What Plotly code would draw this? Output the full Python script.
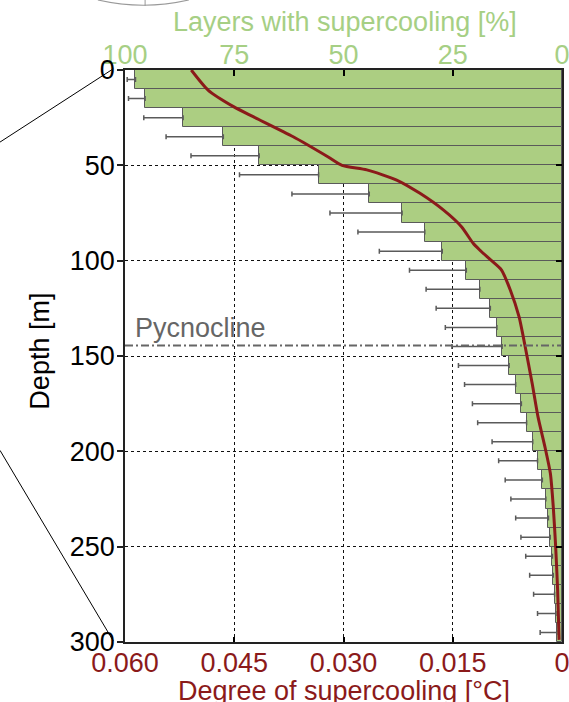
import plotly.graph_objects as go

# ---- data ----
depth_top = [0, 10, 20, 30, 40, 50, 60, 70, 80, 90, 100, 110, 120, 130, 140,
             150, 160, 170, 180, 190, 200, 210, 220, 230, 240, 250, 260, 270, 280, 290]
layer_pct = [97.6, 95.4, 86.7, 77.5, 69.3, 55.7, 44.1, 36.6, 31.4, 27.4,
             21.9, 18.8, 16.4, 14.9, 13.7, 12.1, 10.6, 9.3, 8.1, 6.7,
             5.6, 4.5, 3.7, 3.1, 2.7, 2.2, 2.0, 1.7, 1.4, 1.2]
layer_pct_upper = [99.5, 99.2, 95.7, 90.6, 84.9, 73.8, 61.8, 53.1, 46.7, 41.8,
                   34.9, 31.1, 28.8, 26.7, 25.2, 23.7, 22.3, 20.5, 19.3, 16.0,
                   14.5, 13.0, 11.7, 10.6, 9.4, 8.3, 7.4, 6.5, 5.6, 5.0]

line_depth = [0, 10.5, 19.2, 24.5, 35, 45.6, 50, 52.4, 57.7, 64.7, 73.4, 82.2,
              90.9, 94.4, 99.6, 104.9, 115.4, 129.4, 144.2, 164.3, 181.8, 198.4,
              211.5, 229, 250, 272.7, 298.9]
line_deg = [0.0509, 0.0486, 0.0451, 0.0424, 0.0369, 0.0321, 0.0302, 0.0268,
            0.0227, 0.0195, 0.0163, 0.0138, 0.0122, 0.0113, 0.0098, 0.0083,
            0.0071, 0.0059, 0.0051, 0.0041, 0.0033, 0.0023, 0.0016, 0.0012,
            0.00087, 0.0006, 0.0004]

pct_ticks = [100, 75, 50, 25, 0]
deg_ticks = [0.060, 0.045, 0.030, 0.015, 0]
deg_ticktext = ["0.060", "0.045", "0.030", "0.015", "0"]
depth_ticks = [0, 50, 100, 150, 200, 250, 300]
pycnocline_depth = 144.5

GREEN_TXT = "#a6cf84"
GREEN_BAR = "#acce82"
DARKRED = "#8b1a1a"
FONT = "Liberation Sans, Arial, sans-serif"
FS = 27

centers = [d + 5 for d in depth_top]
err_len = [u - p for u, p in zip(layer_pct_upper, layer_pct)]

fig = go.Figure()

# bars on the main subplot (percent axis = xaxis, drawn at top)
fig.add_trace(go.Bar(
    x=layer_pct, y=centers, orientation="h", width=10,
    xaxis="x", yaxis="y",
    marker=dict(color=GREEN_BAR, line=dict(color="#5a5a5a", width=1)),
    error_x=dict(type="data", symmetric=False, array=err_len,
                 arrayminus=[0] * len(err_len), color="#5a5a5a",
                 thickness=1.5, width=2.5),
    showlegend=False, hoverinfo="skip",
))

# supercooling line on the overlaid degree axis (xaxis2, drawn at bottom)
fig.add_trace(go.Scatter(
    x=line_deg, y=line_depth, mode="lines", xaxis="x2", yaxis="y",
    line=dict(color=DARKRED, width=3, shape="spline", smoothing=0.6),
    showlegend=False, hoverinfo="skip",
))

fig.add_trace(go.Scatter(x=[None], y=[None], xaxis="x", yaxis="y2",
                         showlegend=False, hoverinfo="skip"))

fig.update_layout(
    width=569, height=702,
    margin=dict(l=125, r=7, t=70, b=60),
    paper_bgcolor="white", plot_bgcolor="white",
    font=dict(family=FONT, size=FS, color="black"),
    xaxis=dict(
        range=[100, 0], tickvals=pct_ticks, side="top", anchor="y",
        tickfont=dict(color=GREEN_TXT, size=FS), ticks="inside",
        ticklen=6, tickcolor="black", tickwidth=1.5,
        showgrid=True, gridcolor="#111111", griddash="dot", gridwidth=1,
        showline=True, linecolor="#222222", linewidth=1.5, zeroline=False,
        ticklabeloverflow="allow", ticklabelstandoff=-7, automargin=False,
    ),
    xaxis2=dict(
        range=[0.06, 0], tickvals=deg_ticks, ticktext=deg_ticktext,
        overlaying="x", side="bottom", anchor="y",
        tickfont=dict(color=DARKRED, size=FS), ticks="inside", ticklen=5,
        tickcolor="black", tickwidth=1.5, showgrid=False,
        showline=True, linecolor="#222222", linewidth=1.5, zeroline=False,
        ticklabeloverflow="allow", ticklabelstandoff=-4, automargin=False,
    ),
    yaxis=dict(
        range=[300, 0], tickvals=depth_ticks, ticks="outside", ticklen=6,
        tickcolor="#222222", tickwidth=1.5, showgrid=True, gridcolor="#111111",
        griddash="dot", gridwidth=1, showline=True, linecolor="#222222",
        linewidth=1.5, zeroline=False, tickfont=dict(size=FS, color="black"),
        anchor="x", ticklabelstandoff=-3, ticklabeloverflow="allow",
        automargin=False,
    ),
    yaxis2=dict(
        range=[300, 0], tickvals=depth_ticks[1:-1], overlaying="y", side="right",
        anchor="x", ticks="inside", ticklen=6, tickcolor="black", tickwidth=1.5,
        showticklabels=False, showgrid=False, showline=True,
        linecolor="#222222", linewidth=1.5, zeroline=False, automargin=False,
    ),
    bargap=0,
)

fig.add_shape(type="line", xref="paper", yref="y", x0=0, x1=1,
              y0=pycnocline_depth, y1=pycnocline_depth,
              line=dict(color="#666666", width=2, dash="8px,3px,2px,3px"))

# zoom-indicator lines from the parent figure
fig.add_shape(type="line", xref="paper", yref="paper", x0=-0.286, y0=0.874,
              x1=-0.027, y1=1.002, line=dict(color="black", width=1))
fig.add_shape(type="line", xref="paper", yref="paper", x0=-0.286, y0=0.335,
              x1=-0.027, y1=0.002, line=dict(color="black", width=1))
fig.add_shape(type="path", xref="paper", yref="paper",
              path="M -0.062,1.1224 Q 0.042,1.104 0.146,1.1224",
              line=dict(color="#999999", width=1.2))
fig.add_shape(type="line", xref="paper", yref="paper", x0=0.046, x1=0.046,
              y0=1.112, y1=1.1224, line=dict(color="#999999", width=1))

fig.add_annotation(text="Pycnocline", xref="paper", yref="paper", x=0.018,
                   y=(642 - 328) / 572, xanchor="left", yanchor="middle",
                   showarrow=False,
                   font=dict(size=FS, color="#666666", family=FONT))
fig.add_annotation(text="Layers with supercooling [%]", xref="paper", yref="paper",
                   x=0.503, y=1.084, xanchor="center", yanchor="middle",
                   showarrow=False, font=dict(size=FS, color=GREEN_TXT, family=FONT))
fig.add_annotation(text="Degree of supercooling [°C]", xref="paper", yref="paper",
                   x=0.5, y=-0.086, xanchor="center", yanchor="middle",
                   showarrow=False, font=dict(size=FS, color=DARKRED, family=FONT))
fig.add_annotation(text="Depth [m]", xref="paper", yref="paper",
                   x=-0.195, y=0.509, xanchor="center", yanchor="middle",
                   textangle=-90, showarrow=False,
                   font=dict(size=FS, color="black", family=FONT))

fig.write_html("out.html")
